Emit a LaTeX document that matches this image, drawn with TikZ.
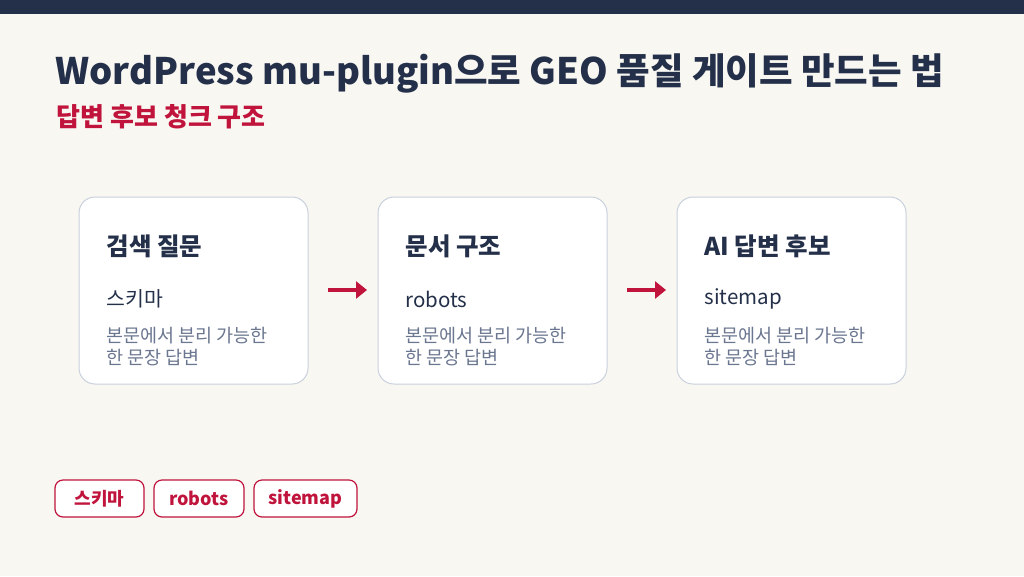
\documentclass[tikz,border=0pt]{standalone}
\usepackage{fontspec}
\setmainfont{Noto Sans CJK KR}
\usetikzlibrary{arrows.meta}
\definecolor{navy}{HTML}{243049}
\definecolor{bg}{HTML}{F8F7F2}
\definecolor{accent}{HTML}{C0143C}
\definecolor{bord}{HTML}{C9D0DD}
\definecolor{gr}{HTML}{6B7790}
\begin{document}
\begin{tikzpicture}[x=1pt,y=-1pt,
 card/.style={draw=bord,line width=1pt,fill=white,rounded corners=16pt},
 ttl/.style={anchor=west,font=\fontsize{24.5}{28}\selectfont\bfseries,text=navy},
 sub/.style={anchor=west,font=\fontsize{20.5}{24}\selectfont,text=navy},
 desc/.style={anchor=north west,font=\fontsize{18.5}{22}\selectfont,text=gr,align=left},
 tag/.style={draw=accent,line width=1.2pt,fill=white,rounded corners=8pt,text=accent,font=\fontsize{18}{20}\selectfont\bfseries,minimum height=37pt,inner xsep=0pt},
 arr/.style={draw=accent,line width=4pt,-{Triangle[length=11pt,width=17pt]}}]
\fill[bg] (0,0) rectangle (1024,576);
\fill[navy] (0,0) rectangle (1024,14);
\node[anchor=west,font=\fontsize{36.5}{40}\selectfont\bfseries,text=navy] (title) at (52,73) {WordPress mu-plugin으로 GEO 품질 게이트 만드는 법};
\node[anchor=west,font=\fontsize{26}{30}\selectfont\bfseries,text=accent] (subt) at (53,117) {답변 후보 청크 구조};
\foreach \i/\x/\t/\s in {1/79/검색 질문/스키마,2/378/문서 구조/robots,3/677/AI 답변 후보/sitemap}{
 \draw[card] (\x,197) rectangle (\x+229,384);
 \node[ttl] (t\i) at (\x+24,246) {\t};
 \node[sub] (s\i) at (\x+24,299) {\s};
 \node[desc] (d\i) at (\x+24,324) {본문에서 분리 가능한\\한 문장 답변};
}
\coordinate (a1) at (328,290); \coordinate (b1) at (367,290);
\coordinate (a2) at (627,290); \coordinate (b2) at (666,290);
\draw[arr] (a1) -- (b1);
\draw[arr] (a2) -- (b2);
\node[tag,minimum width=89pt] (g1) at (99.5,498.5) {스키마};
\node[tag,minimum width=90pt] (g2) at (199,498.5) {robots};
\node[tag,minimum width=103pt] (g3) at (305.5,498.5) {sitemap};
\end{tikzpicture}
\end{document}
